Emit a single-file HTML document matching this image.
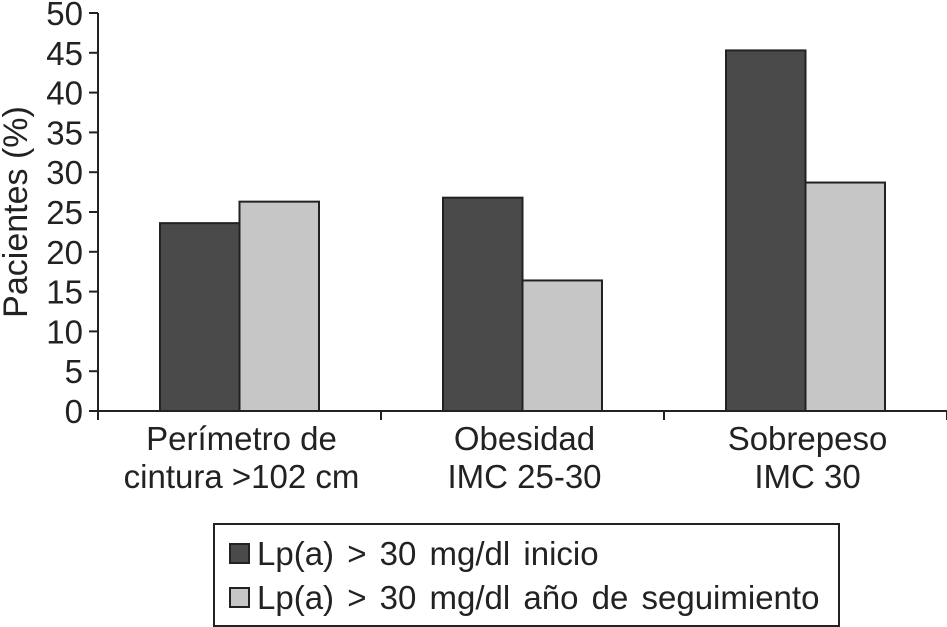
<!DOCTYPE html>
<html><head><meta charset="utf-8"><style>
html,body{margin:0;padding:0;background:#fff;}
svg{display:block;font-family:"Liberation Sans",sans-serif;}
</style></head><body>
<svg id="c" width="947" height="627"></svg>
<script>
const categories=[["Perímetro de","cintura >102 cm"],["Obesidad","IMC 25-30"],["Sobrepeso","IMC 30"]];
const seriesInicio=[23.6,26.8,45.3];
const seriesSeguimiento=[26.3,16.4,28.7];
const yTicks=[0,5,10,15,20,25,30,35,40,45,50];
const seriesNames=["Lp(a) > 30 mg/dl inicio","Lp(a) > 30 mg/dl año de seguimiento"];
const colors=["#4a4a4a","#c6c6c6"];

const NS="http://www.w3.org/2000/svg";
const svg=document.getElementById('c');
const x0=98,y0=411,yTop=13,gw=283;
const y=v=>y0-(v/50)*(y0-yTop);
const gx=i=>x0+i*gw;
function mk(t,a,p){const e=document.createElementNS(NS,t);for(const k in a)e.setAttribute(k,a[k]);(p||svg).appendChild(e);return e;}

yTicks.forEach(t=>{
  const l=mk('line',{x1:x0-9,x2:x0,y1:y(t),y2:y(t),stroke:'#222','stroke-width':2});
  
  
  const tx=mk('text',{x:x0-15,y:y(t)+12,'text-anchor':'end','font-size':33,fill:'#222'});
  tx.textContent=t;
  
  
});
const yt=mk('text',{transform:'translate(27,212) rotate(-90)','text-anchor':'middle','font-size':34,fill:'#222'});
yt.textContent='Pacientes (%)';



const bw=79.5;
categories.forEach((c,i)=>{
  [seriesInicio,seriesSeguimiento].forEach((s,j)=>{
    const bx=gx(i)+62+j*bw;
    const r=mk('rect',{x:bx,y:y(s[i]),width:bw,height:y0-y(s[i]),fill:colors[j],stroke:'#222','stroke-width':2});
    
    
  });
  c.forEach((line,k)=>{
    const t=mk('text',{x:gx(i)+gw/2+2,y:450+k*38,'text-anchor':'middle','font-size':33,fill:'#222'});
    t.textContent=line;
    
    
  });
  const tk=mk('line',{x1:gx(i+1),x2:gx(i+1),y1:y0,y2:y0+9,stroke:'#222','stroke-width':2});
  
  
});
const t0=mk('line',{x1:x0,x2:x0,y1:y0,y2:y0+9,stroke:'#222','stroke-width':2});



const ax=mk('line',{x1:x0,x2:x0,y1:yTop,y2:y0,stroke:'#222','stroke-width':2});


const bx=mk('line',{x1:x0,x2:947,y1:y0,y2:y0,stroke:'#222','stroke-width':2});



const lg=mk('g',{});


mk('rect',{x:214,y:524,width:625,height:102,fill:'#fff',stroke:'#222','stroke-width':2},lg);
seriesNames.forEach((n,j)=>{
  const sw=mk('rect',{x:230,y:544+j*44,width:19,height:19,fill:colors[j],stroke:'#222','stroke-width':2},lg);
  
  
  const t=mk('text',{x:257,y:565+j*44,'font-size':33,'word-spacing':4,fill:'#222'},lg);
  t.textContent=n;
  
  
});
</script>
</body></html>
